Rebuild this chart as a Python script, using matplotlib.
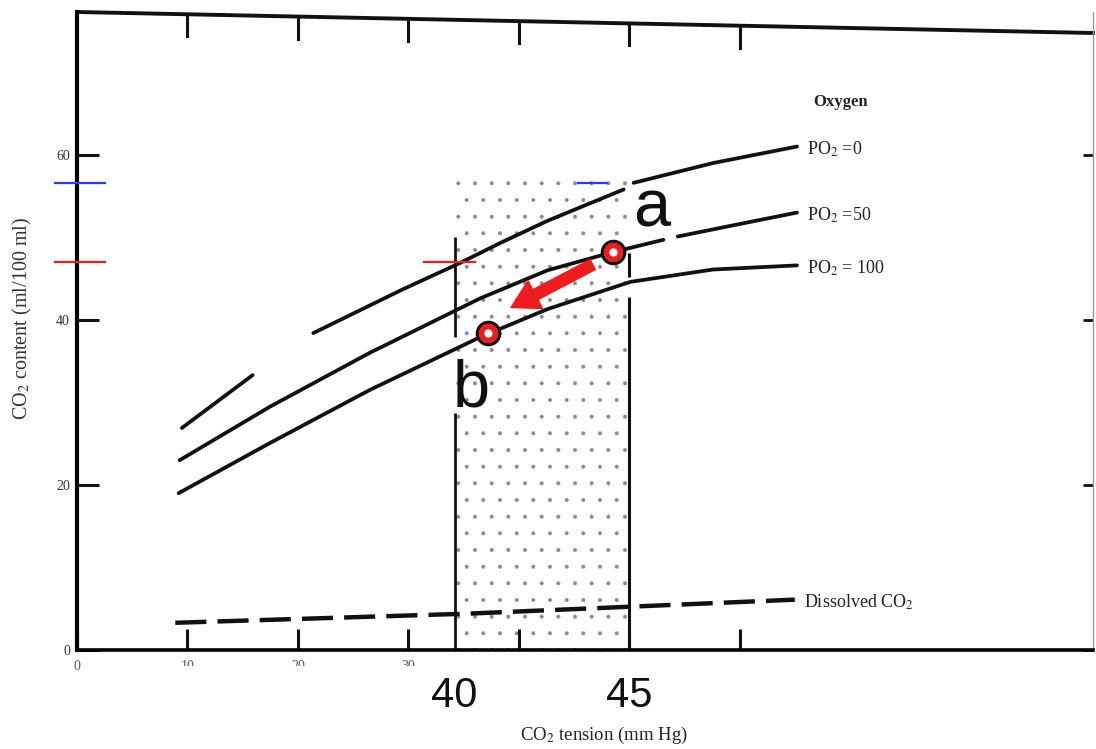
import numpy as np
import matplotlib
matplotlib.use("Agg")
import matplotlib.pyplot as plt
from matplotlib.patches import Rectangle

nan = np.nan

# ---------------- data ----------------
# CO2 tension (mm Hg) / CO2 content (ml/100 ml) for the three oxygen curves
pco2_po2_0 = [9.5, 15.9, nan, 21.4, 29.5, 34.7, 38.3, 42.6, 49.5, nan, 50.4, 57.6, 65.2]
co2_po2_0 = [26.9, 33.3, nan, 38.4, 43.7, 46.9, 49.3, 52.0, 55.8, nan, 56.6, 59.0, 61.0]

pco2_po2_50 = [9.3, 17.5, 26.5, 36.5, 42.6, 48.5, 53.1, nan, 54.4, 60.7, 65.2]
co2_po2_50 = [23.0, 29.5, 36.0, 42.6, 46.0, 48.2, 49.7, nan, 50.1, 51.8, 53.0]

pco2_po2_100 = [9.2, 17.5, 26.5, 36.5, 42.6, 50.1, 57.6, 65.2]
co2_po2_100 = [19.0, 25.1, 31.5, 37.9, 41.3, 44.6, 46.1, 46.6]

pco2_dissolved = [8.9, 35.3, 65.0]
co2_dissolved = [3.3, 4.4, 6.1]

curve_labels = ["PO$_2$ =0", "PO$_2$ =50", "PO$_2$ = 100"]

# shaded range (original axis units) and its annotated labels
shade_x = [34.2, 50.0]
shade_top = 57.0
shade_labels = ["40", "45"]

# points a and b, and the arrow between them
point_a = (48.5, 48.2)
point_b = (37.2, 38.4)
arrow_tail = (46.7, 46.7)
arrow_tip = (39.3, 41.5)

# coloured reference marks
blue_level = 56.6
red_level = 47.0
blue_mark_x = [45.3, 48.1]
red_mark_x = [31.3, 36.1]

xticks = [0, 10, 20, 30, 40, 50, 60]
xtick_labels = ["0", "10", "20", "30", "", "", ""]
top_ticks = [10, 20, 30, 40, 50, 60]
yticks = [0, 20, 40, 60]
ytick_labels = ["0", "20", "40", "60"]

# ---------------- figure ----------------
plt.rcParams["mathtext.fontset"] = "stix"
SERIF = ["Liberation Serif", "DejaVu Serif"]
SANS = ["Liberation Sans", "DejaVu Sans"]

W, H = 1096, 749
fig = plt.figure(figsize=(W / 100, H / 100), dpi=100)
L, R, B, T = 77, 1093, 650, 12
ax = fig.add_axes([L / W, (H - B) / H, (R - L) / W, (B - T) / H])
XMAX, YMAX = 92.0, 77.3

INK = "#111111"
RED = "#ee1c1c"
BLUE = "#2040e8"

# stippled range
plt.rcParams["hatch.linewidth"] = 0.4
ax.add_patch(Rectangle((shade_x[0], 0), shade_x[1] - shade_x[0], shade_top,
                       facecolor="none", edgecolor="#8a8a8a", hatch=".", lw=0, zorder=1))
ax.vlines([shade_x[0], shade_x[0]], [0, 37.9], [28.7, 50.0], color=INK, lw=2.0, zorder=2)
ax.vlines([shade_x[1], shade_x[1]], [0, 45.2], [42.8, 48.1], color=INK, lw=2.2, zorder=2)

# curves
for xs, ys in [(pco2_po2_0, co2_po2_0), (pco2_po2_50, co2_po2_50), (pco2_po2_100, co2_po2_100)]:
    ax.plot(xs, ys, color=INK, lw=2.7, solid_capstyle="round", solid_joinstyle="round", zorder=3)
ax.plot(pco2_dissolved, co2_dissolved, color=INK, lw=3.2, dashes=(7, 2.5), zorder=3)

# curve labels
ends = [(pco2_po2_0[-1], co2_po2_0[-1]), (pco2_po2_50[-1], co2_po2_50[-1]),
        (pco2_po2_100[-1], co2_po2_100[-1])]
for (xe, ye), lab in zip(ends, curve_labels):
    ax.text(xe + 0.9, ye - 0.3, lab, fontsize=13, family=SERIF, color="#222222",
            ha="left", va="center")
ax.text(pco2_po2_0[-1] + 1.5, 66.4, "Oxygen", fontsize=12, family=SERIF,
        fontweight="bold", color="#222222", ha="left", va="center")
ax.text(pco2_dissolved[-1] + 0.8, co2_dissolved[-1] - 0.3, "Dissolved CO$_2$", fontsize=13,
        family=SERIF, color="#222222", ha="left", va="center")

# points a, b and arrow
for p in (point_a, point_b):
    ax.plot(*p, marker="o", ms=16, mfc="white", mec=INK, mew=2.4, zorder=5)
    ax.plot(*p, marker="o", ms=10, mfc="none", mec=RED, mew=4.0, zorder=6)
ax.annotate("", xy=arrow_tip, xytext=arrow_tail,
            arrowprops=dict(arrowstyle="simple,head_length=1.1,head_width=1.25,tail_width=0.45",
                            color=RED, mutation_scale=18, shrinkA=0, shrinkB=0), zorder=6)
ax.text(50.4, 51.3, "a", fontsize=48, family=SANS, color=INK, ha="left", va="baseline")
ax.text(34.0, 29.5, "b", fontsize=48, family=SANS, color=INK, ha="left", va="baseline")

# coloured marks
ax.hlines(blue_level, *blue_mark_x, color=BLUE, lw=1.6, zorder=4)
ax.hlines(red_level, *red_mark_x, color=RED, lw=1.6, zorder=4)
ax.plot([-2.0, 2.5], [blue_level, blue_level], color=BLUE, lw=1.6, clip_on=False, zorder=4)
ax.plot([-2.0, 2.5], [red_level, red_level], color=RED, lw=1.6, clip_on=False, zorder=4)

# axes styling
ax.set_xlim(0, XMAX)
ax.set_ylim(0, YMAX)
ax.set_xticks(xticks)
ax.set_xticklabels(xtick_labels, fontsize=10, family=SERIF, color="#555555")
ax.set_yticks(yticks)
ax.set_yticklabels(ytick_labels, fontsize=10, family=SERIF, color="#333333")
ax.tick_params(axis="x", direction="in", length=15, width=2.2, pad=7, colors=INK,
               labelcolor="#555555")
ax.tick_params(axis="y", direction="in", length=16, width=2.2, pad=5, right=True,
               colors=INK, labelcolor="#333333")
for t in ax.yaxis.get_major_ticks():
    t.tick2line.set_markersize(7)
    t.tick2line.set_markeredgewidth(2.0)
ax.spines["left"].set_linewidth(3.0)
ax.spines["bottom"].set_linewidth(2.6)
ax.spines["top"].set_visible(False)
ax.spines["right"].set_linewidth(1.0)
ax.spines["right"].set_color("#9a9a9a")

# slightly tilted top frame with inward ticks
drop = 21 / (B - T)
ax.plot([0, 1], [1, 1 - drop], transform=ax.transAxes, color=INK, lw=2.8, clip_on=False)
for xv in top_ticks:
    xa = xv / XMAX
    ya = 1 - drop * xa
    ax.plot([xa, xa], [ya, ya - 22 / (B - T)], transform=ax.transAxes, color=INK, lw=2.2,
            clip_on=False)

ax.set_ylabel("CO$_2$ content (ml/100 ml)", fontsize=14.5, family=SERIF, color="#333333")
ax.yaxis.set_label_coords((34 - L) / (R - L), (B - 318) / (B - T))

# white overlay cutting the lower tick labels, then the annotated labels
ax.add_patch(Rectangle(((120 - L) / (R - L), -0.2), 1.2, 0.2 - (666 - B) / (B - T),
                       transform=ax.transAxes, facecolor="white", edgecolor="none",
                       clip_on=False, zorder=10))
for xv, lab in zip(shade_x, shade_labels):
    ax.text(xv, -5.6, lab, fontsize=30, family=SANS, color=INK, ha="center", va="center",
            clip_on=False, zorder=11)
ax.text(47.7, -10.3, "CO$_2$ tension (mm Hg)", fontsize=13.5, family=SERIF, color="#222222",
        ha="center", va="center", clip_on=False, zorder=11)

fig.savefig("out.png", dpi=100)
